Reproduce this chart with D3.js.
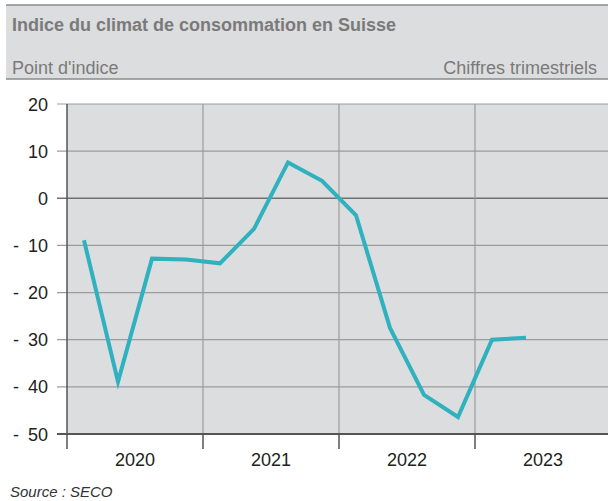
<!DOCTYPE html>
<html>
<head>
<meta charset="utf-8">
<script src="https://cdn.jsdelivr.net/npm/d3@7"></script>
<style>
  body { margin: 0; background: #fff; }
  svg { display: block; font-family: "Liberation Sans", Arial, sans-serif; }
</style>
</head>
<body>
<div id="chart"></div>
<script>
// quarterly values, 2020 T1 .. 2023 T2
var quarters = ["2020 T1", "2020 T2", "2020 T3", "2020 T4",
                "2021 T1", "2021 T2", "2021 T3", "2021 T4",
                "2022 T1", "2022 T2", "2022 T3", "2022 T4",
                "2023 T1", "2023 T2"];
var values = [-8.9, -38.9, -12.8, -13.0, -13.8, -6.5, 7.6, 3.7,
              -3.6, -27.5, -41.7, -46.4, -30.0, -29.6];
var years = ["2020", "2021", "2022", "2023"];
var yTicks = [20, 10, 0, -10, -20, -30, -40, -50];

var width = 608, height = 501;
var plotLeft = 67, plotRight = 611, plotTop = 104, plotBottom = 434;

var svg = d3.select("#chart").append("svg")
  .attr("width", width)
  .attr("height", height);

// header band
svg.append("rect")
  .attr("x", 6).attr("y", 5)
  .attr("width", width - 6).attr("height", 74)
  .attr("fill", "#dcdddf");
svg.append("line")
  .attr("x1", 6).attr("x2", width).attr("y1", 5).attr("y2", 5)
  .attr("stroke", "#8a8a8a").attr("stroke-width", 1.5);
svg.append("line")
  .attr("x1", 6).attr("x2", width).attr("y1", 79).attr("y2", 79)
  .attr("stroke", "#8a8a8a").attr("stroke-width", 1.5);

svg.append("text")
  .attr("x", 12).attr("y", 31)
  .attr("font-size", 18).attr("font-weight", "bold")
  .attr("fill", "#7a7a7a")
  .text("Indice du climat de consommation en Suisse");
svg.append("text")
  .attr("x", 12).attr("y", 74)
  .attr("font-size", 18)
  .attr("fill", "#7a7a7a")
  .text("Point d'indice");
svg.append("text")
  .attr("x", 597).attr("y", 74)
  .attr("font-size", 18)
  .attr("text-anchor", "end")
  .attr("fill", "#7a7a7a")
  .text("Chiffres trimestriels");

var x = d3.scaleLinear().domain([0, 16]).range([plotLeft, plotRight]);
var y = d3.scaleLinear().domain([-50, 20]).range([plotBottom, plotTop]);

// plot background
svg.append("rect")
  .attr("x", plotLeft).attr("y", plotTop)
  .attr("width", width - plotLeft).attr("height", plotBottom - plotTop)
  .attr("fill", "#dcdddf");

// horizontal gridlines
svg.selectAll(".hgrid")
  .data(yTicks.filter(function (d) { return d != -50; }))
  .enter().append("line")
  .attr("x1", plotLeft - 10).attr("x2", width)
  .attr("y1", function (d) { return y(d); })
  .attr("y2", function (d) { return y(d); })
  .attr("stroke", function (d) { return d == 0 ? "#707070" : "#9c9c9c"; })
  .attr("stroke-width", function (d) { return d == 0 ? 1.5 : 1.2; });

// vertical year lines
svg.selectAll(".vgrid")
  .data(years.slice(1))
  .enter().append("line")
  .attr("x1", function (d, i) { return x((i + 1) * 4); })
  .attr("x2", function (d, i) { return x((i + 1) * 4); })
  .attr("y1", plotTop).attr("y2", plotBottom)
  .attr("stroke", "#9c9c9c").attr("stroke-width", 1.2);

// y axis labels
svg.selectAll(".ylab")
  .data(yTicks)
  .enter().append("text")
  .attr("x", 48)
  .attr("y", function (d) { return y(d) + 6.5; })
  .attr("text-anchor", "end")
  .attr("font-size", 18)
  .attr("fill", "#222")
  .text(function (d) { return d < 0 ? "-\u2002" + Math.abs(d) : d; });

// bottom axis
svg.append("line")
  .attr("x1", plotLeft - 10).attr("x2", width)
  .attr("y1", plotBottom).attr("y2", plotBottom)
  .attr("stroke", "#555").attr("stroke-width", 2);

// left axis
svg.append("line")
  .attr("x1", plotLeft).attr("x2", plotLeft)
  .attr("y1", plotTop).attr("y2", plotBottom + 15)
  .attr("stroke", "#555").attr("stroke-width", 1.5);

// year ticks
svg.selectAll(".xtick")
  .data(years.slice(1))
  .enter().append("line")
  .attr("x1", function (d, i) { return x((i + 1) * 4); })
  .attr("x2", function (d, i) { return x((i + 1) * 4); })
  .attr("y1", plotBottom).attr("y2", plotBottom + 15)
  .attr("stroke", "#555").attr("stroke-width", 1.5);

svg.selectAll(".xlab")
  .data(years)
  .enter().append("text")
  .attr("x", function (d, i) { return x(i * 4 + 2); })
  .attr("y", 466)
  .attr("text-anchor", "middle")
  .attr("font-size", 18)
  .attr("fill", "#222")
  .text(function (d) { return d; });

// the series
var line = d3.line()
  .x(function (d, i) { return x(i + 0.5); })
  .y(function (d) { return y(d); });

svg.append("path")
  .datum(values)
  .attr("d", line)
  .attr("fill", "none")
  .attr("stroke", "#2fb1be")
  .attr("stroke-width", 4);

svg.append("text")
  .attr("x", 10).attr("y", 497)
  .attr("font-size", 15)
  .attr("font-style", "italic")
  .attr("fill", "#333")
  .text("Source : SECO");
</script>
</body>
</html>
